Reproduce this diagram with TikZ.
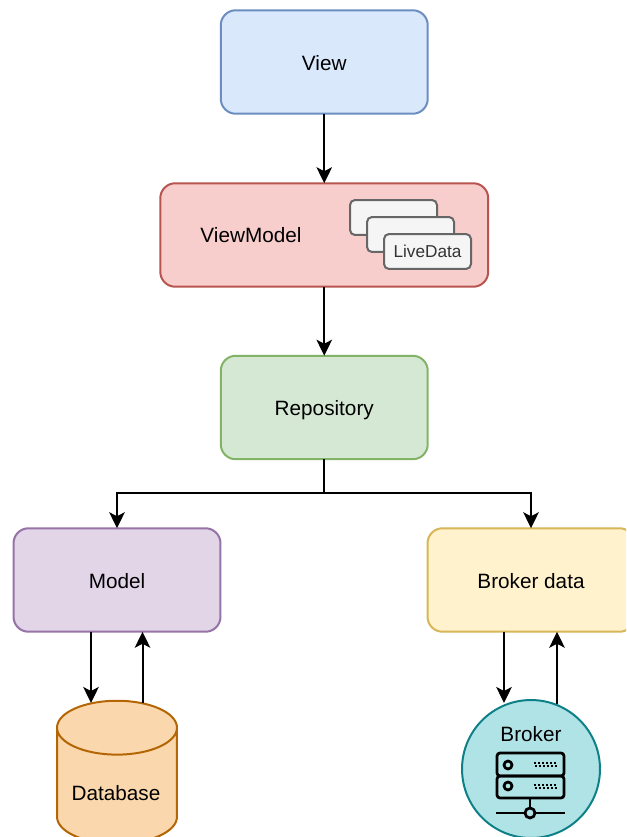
\documentclass[tikz,border=0pt]{standalone}
\usepackage{fontspec}
\setmainfont{Liberation Sans}
\usetikzlibrary{arrows.meta,shapes.geometric}

\definecolor{viewfill}{HTML}{DAE8FC}
\definecolor{viewline}{HTML}{6C8EBF}
\definecolor{vmfill}{HTML}{F8CECC}
\definecolor{vmline}{HTML}{B85450}
\definecolor{repofill}{HTML}{D5E8D4}
\definecolor{repoline}{HTML}{82B366}
\definecolor{modelfill}{HTML}{E1D5E7}
\definecolor{modelline}{HTML}{9673A6}
\definecolor{brokerfill}{HTML}{FFF2CC}
\definecolor{brokerline}{HTML}{D6B656}
\definecolor{dbfill}{HTML}{FAD7AC}
\definecolor{dbline}{HTML}{B46504}
\definecolor{circfill}{HTML}{B0E3E6}
\definecolor{circline}{HTML}{0E8088}
\definecolor{cardfill}{HTML}{F5F5F5}
\definecolor{cardline}{HTML}{666666}
\definecolor{cardtext}{HTML}{333333}

\tikzset{
  box/.style={draw, line width=0.04cm, rounded corners=0.3cm, minimum width=4.14cm, minimum height=2.07cm, font=\fontsize{11.8}{14}\selectfont, text height=11pt, text depth=1.6pt, outer sep=0pt},
  card/.style={draw=cardline, fill=cardfill, line width=0.04cm, rounded corners=0.1cm, minimum width=1.74cm, minimum height=0.7cm, font=\fontsize{9.8}{12}\selectfont, text=cardtext, outer sep=0pt},
  label/.style={font=\fontsize{11.8}{14}\selectfont},
  link/.style={line width=0.04cm, -{Stealth[length=0.32cm, width=0.31cm, inset=0.08cm]}},
  icon/.style={line width=0.055cm, line join=round},
  dots/.style={line width=0.03cm, dash pattern=on 0.04cm off 0.04cm}
}

\begin{document}
\begin{tikzpicture}[x=0.02cm, y=-0.02cm]
\clip (0,0) rectangle (626,837);

\node[box, fill=viewfill, draw=viewline] (view) at (324.25,62) {View};
\node[box, fill=vmfill, draw=vmline, minimum width=6.56cm] (viewmodel) at (324.25,235) {};
\node[label] (viewmodeltext) at (251,235) {ViewModel};
\node[card] (card1) at (393.5,217.5) {};
\node[card] (card2) at (410.5,234.5) {};
\node[card] (card3) at (427.5,251.5) {LiveData};
\node[box, fill=repofill, draw=repoline] (repository) at (324.25,407.5) {Repository};
\node[box, fill=modelfill, draw=modelline] (model) at (117,580) {Model};
\node[box, fill=brokerfill, draw=brokerline] (brokerdata) at (531,580) {Broker data};

\node[cylinder, shape border rotate=90, aspect=4.6, draw=dbline, fill=dbfill, line width=0.04cm, minimum width=2.4cm, minimum height=2.86cm, outer sep=0pt] (database) at (117,792) {};
\node[label] (databasetext) at (116,793) {Database};

\node[circle, draw=circline, fill=circfill, line width=0.04cm, minimum size=2.76cm, outer sep=0pt] (broker) at (531,769) {};
\node[label] (brokertext) at (531,734) {Broker};

% server icon
\draw[icon, rounded corners=0.06cm] (497,753) rectangle (564,776);
\draw[icon, rounded corners=0.06cm] (497,776) rectangle (564,798);
\draw[icon] (508,765) circle (4);
\draw[icon] (508,786) circle (4);
\draw[dots] (534,763) -- (557,763);
\draw[dots] (535,766) -- (557,766);
\draw[dots] (534,785) -- (557,785);
\draw[dots] (535,788) -- (557,788);
\draw[icon] (530,798) -- (530,808);
\draw[icon] (496,813) -- (525,813);
\draw[icon] (535,813) -- (565,813);
\draw[icon] (530,813) circle (5);

\coordinate (split) at (324.25,493);
\coordinate (dbin) at (91,703);
\coordinate (dbout) at (142.5,703);
\coordinate (brokerin) at (504,703);
\coordinate (brokerout) at (557,704);

\draw[link] (view.south) -- (viewmodel.north);
\draw[link] (viewmodel.south) -- (repository.north);
\draw[line width=0.04cm] (repository.south) -- (split);
\draw[link] (split) -| (model.north);
\draw[link] (split) -| (brokerdata.north);
\draw[link] (model.south -| dbin) -- (dbin);
\draw[link] (dbout) -- (model.south -| dbout);
\draw[link] (brokerdata.south -| brokerin) -- (brokerin);
\draw[link] (brokerout) -- (brokerdata.south -| brokerout);
\end{tikzpicture}
\end{document}
